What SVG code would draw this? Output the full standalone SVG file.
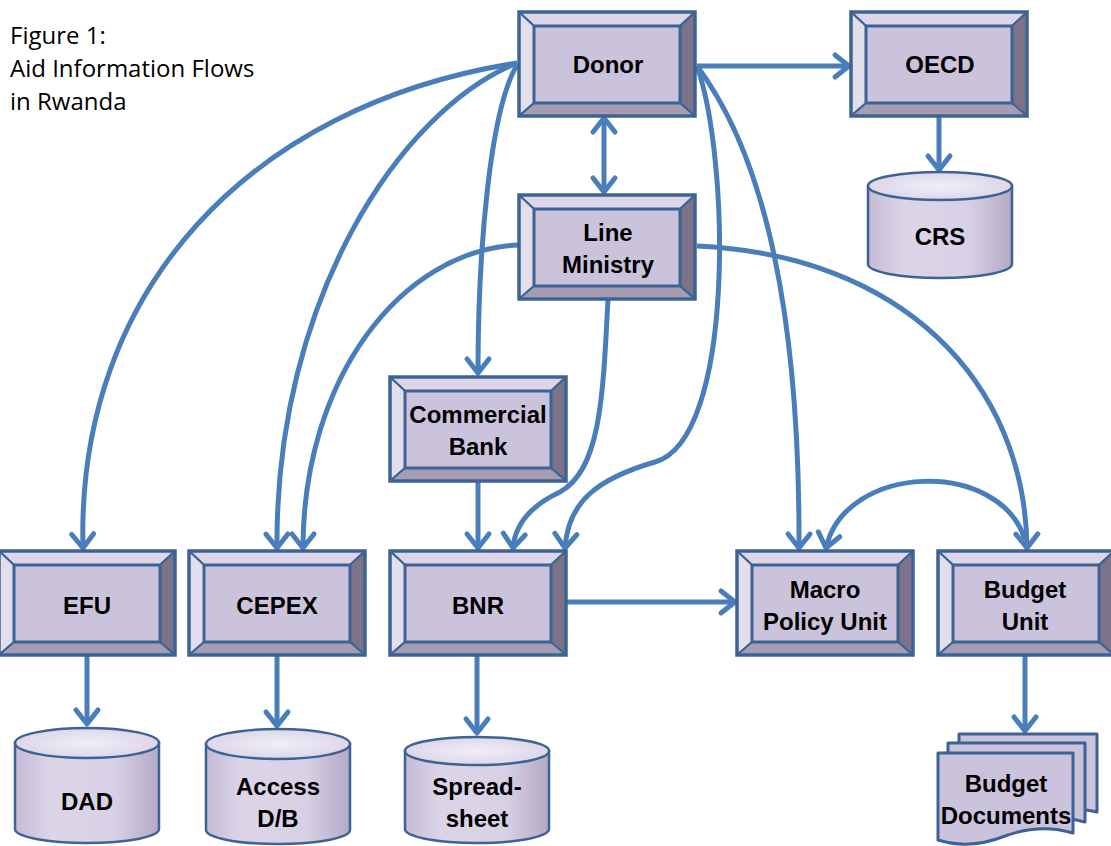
<svg xmlns="http://www.w3.org/2000/svg" xmlns:xlink="http://www.w3.org/1999/xlink" width="1111" height="846" viewBox="0 0 1111 846">
<style>
.lbl{font-family:"Liberation Sans",Arial,sans-serif;font-weight:bold;font-size:24px;fill:#000;text-anchor:middle}
.title{font-family:"Open Sans","Liberation Sans",sans-serif;font-size:24px;fill:#000}
.conn{fill:none;stroke:#4a7ebb;stroke-width:5;stroke-linecap:butt}
.bv{stroke:#3d6394;stroke-width:2;stroke-linejoin:round}
.cyl{stroke:#3d6394;stroke-width:2.5}
.doc{fill:#cbc3dc;stroke:#3d6394;stroke-width:3;stroke-linejoin:round}
</style>
<defs>
<marker id="ah" markerUnits="userSpaceOnUse" markerWidth="40" markerHeight="40" viewBox="-20 -20 40 40" refX="0" refY="0" orient="auto-start-reverse" overflow="visible">
<path d="M-14,-11 L0,0 L-14,11" fill="none" stroke="#4a7ebb" stroke-width="5" stroke-linecap="round" stroke-linejoin="round"/>
</marker>
<linearGradient id="cylg" x1="0" x2="1" y1="0" y2="0">
<stop offset="0" stop-color="#c4bad5"/>
<stop offset="0.25" stop-color="#dcd5e8"/>
<stop offset="0.7" stop-color="#d8d0e4"/>
<stop offset="1" stop-color="#b3a9c4"/>
</linearGradient>
<radialGradient id="topg" cx="0.5" cy="0.5" r="0.6">
<stop offset="0" stop-color="#f1eef7"/>
<stop offset="1" stop-color="#d9d2e6"/>
</radialGradient>
<g id="bevel">
<rect x="0" y="0" width="176" height="104" fill="#cbc3dc"/>
<polygon class="bv" points="0,0 176,0 161,14 15,14" fill="#dcd6e8"/>
<polygon class="bv" points="0,0 15,14 15,91 0,104" fill="#e2deeb"/>
<polygon class="bv" points="176,0 176,104 161,91 161,14" fill="#7d7388"/>
<polygon class="bv" points="0,104 15,91 161,91 176,104" fill="#a69db3"/>
<rect x="15" y="14" width="146" height="77" fill="#cbc3dc" stroke="#3d6394" stroke-width="3"/>
<rect x="0" y="0" width="176" height="104" fill="none" stroke="#3d6394" stroke-width="3.5"/>
</g>
<g id="cyl">
<path class="cyl" d="M-72,0 L-72,78 A72,14 0 0 0 72,78 L72,0 Z" fill="url(#cylg)"/>
<ellipse class="cyl" cx="0" cy="0" rx="72" ry="14" fill="url(#topg)"/>
</g>
<g id="cyl2">
<path class="cyl" d="M-72,0 L-72,86 A72,14 0 0 0 72,86 L72,0 Z" fill="url(#cylg)"/>
<ellipse class="cyl" cx="0" cy="0" rx="72" ry="15" fill="url(#topg)"/>
</g>
</defs>

<g id="title">
<text class="title" x="10" y="44">Figure 1:</text>
<text class="title" x="10" y="77">Aid Information Flows</text>
<text class="title" x="10" y="110">in Rwanda</text>
</g>

<g id="connectors">
<path class="conn" d="M697,66 L849,66" marker-end="url(#ah)"/>
<path class="conn" d="M604,118 L604,192" marker-start="url(#ah)" marker-end="url(#ah)"/>
<path class="conn" d="M939,116 L939,170" marker-end="url(#ah)"/>
<path class="conn" d="M517,63 C250,105 76,290 83,548" marker-end="url(#ah)"/>
<path class="conn" d="M517,63 C400,110 275,300 277,548" marker-end="url(#ah)"/>
<path class="conn" d="M517,65 C490,110 478,250 478,373" marker-end="url(#ah)"/>
<path class="conn" d="M697,66 C760,150 800,300 799,548" marker-end="url(#ah)"/>
<path class="conn" d="M697,66 C730,160 735,440 655,462 C600,478 568,500 565,548" marker-end="url(#ah)"/>
<path class="conn" d="M519,245 C400,250 303,380 303,548" marker-end="url(#ah)"/>
<path class="conn" d="M608,298 C603,400 600,470 560,492 C530,506 515,525 513,548" marker-end="url(#ah)"/>
<path class="conn" d="M697,246 C900,255 1025,380 1027,548" marker-end="url(#ah)"/>
<path class="conn" d="M826,548 C845,463 1000,458 1025,540" marker-start="url(#ah)"/>
<path class="conn" d="M478,482 L478,548" marker-end="url(#ah)"/>
<path class="conn" d="M566,602 L735,602" marker-end="url(#ah)"/>
<path class="conn" d="M87,656 L87,724" marker-end="url(#ah)"/>
<path class="conn" d="M277,656 L277,726" marker-end="url(#ah)"/>
<path class="conn" d="M477,656 L477,733" marker-end="url(#ah)"/>
<path class="conn" d="M1025,656 L1025,731" marker-end="url(#ah)"/>
</g>

<g id="donor"><use xlink:href="#bevel" href="#bevel" transform="translate(519,12)"/><text class="lbl" x="608" y="73">Donor</text></g>
<g id="oecd"><use xlink:href="#bevel" href="#bevel" transform="translate(851,12)"/><text class="lbl" x="940" y="73">OECD</text></g>
<g id="line-ministry"><use xlink:href="#bevel" href="#bevel" transform="translate(519,195)"/><text class="lbl" x="608" y="241">Line</text><text class="lbl" x="608" y="273">Ministry</text></g>
<g id="commercial-bank"><use xlink:href="#bevel" href="#bevel" transform="translate(390,377)"/><text class="lbl" x="478" y="423">Commercial</text><text class="lbl" x="478" y="455">Bank</text></g>
<g id="efu"><use xlink:href="#bevel" href="#bevel" transform="translate(-1,551)"/><text class="lbl" x="87" y="614">EFU</text></g>
<g id="cepex"><use xlink:href="#bevel" href="#bevel" transform="translate(189,551)"/><text class="lbl" x="277" y="614">CEPEX</text></g>
<g id="bnr"><use xlink:href="#bevel" href="#bevel" transform="translate(390,551)"/><text class="lbl" x="478" y="614">BNR</text></g>
<g id="macro"><use xlink:href="#bevel" href="#bevel" transform="translate(737,551)"/><text class="lbl" x="825" y="598">Macro</text><text class="lbl" x="825" y="630">Policy Unit</text></g>
<g id="budget-unit"><use xlink:href="#bevel" href="#bevel" transform="translate(938,551)"/><text class="lbl" x="1025" y="598">Budget</text><text class="lbl" x="1025" y="630">Unit</text></g>

<g id="crs"><use xlink:href="#cyl" href="#cyl" transform="translate(940,186)"/><text class="lbl" x="940" y="245">CRS</text></g>
<g id="dad"><use xlink:href="#cyl2" href="#cyl2" transform="translate(87,743)"/><text class="lbl" x="87" y="810">DAD</text></g>
<g id="access"><use xlink:href="#cyl2" href="#cyl2" transform="translate(278,744)"/><text class="lbl" x="278" y="795">Access</text><text class="lbl" x="278" y="827">D/B</text></g>
<g id="spreadsheet"><use xlink:href="#cyl" href="#cyl" transform="translate(477,751)"/><text class="lbl" x="477" y="795">Spread-</text><text class="lbl" x="477" y="827">sheet</text></g>

<g id="budget-documents">
<path class="doc" d="M959,734 L1097,734 L1097,812 Q1070,806 1060,812 L959,812 Z"/>
<path class="doc" d="M948,743 L1085,743 L1085,822 Q1065,816 1050,822 L948,822 Z"/>
<path class="doc" d="M938,753 L1073,753 L1073,833 Q1040,823 1005,836 Q970,850 938,840 Z"/>
<text class="lbl" x="1006" y="792">Budget</text>
<text class="lbl" x="1006" y="824">Documents</text>
</g>
</svg>
